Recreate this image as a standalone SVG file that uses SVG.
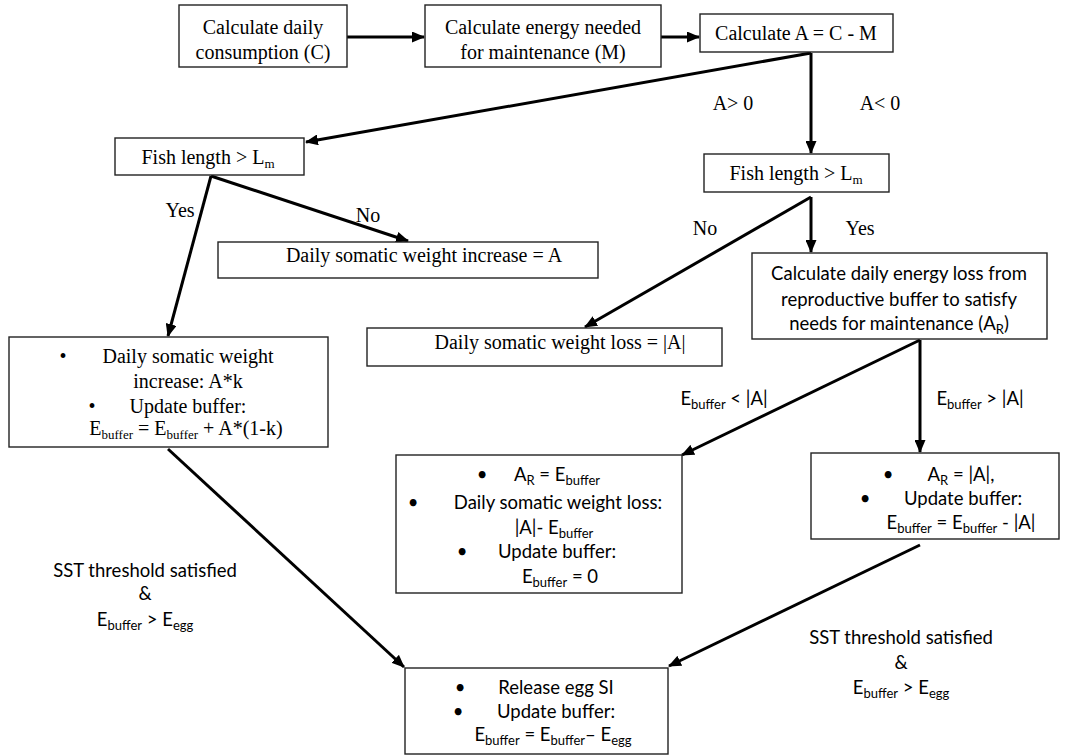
<svg xmlns="http://www.w3.org/2000/svg" width="1065" height="755" viewBox="0 0 1065 755">
<defs>
<marker id="ah" markerUnits="userSpaceOnUse" markerWidth="13" markerHeight="11" refX="12" refY="5.5" orient="auto">
<path d="M0,0 L13,5.5 L0,11 z" fill="#000"/>
</marker>
<style>
.box{fill:#fff;stroke:#222;stroke-width:1.4}
.ser{font-family:"Liberation Serif","Times New Roman",serif;font-size:20px;fill:#000}
.san{font-family:Lato,"Liberation Sans",sans-serif;font-size:18.5px;fill:#000}
.c{text-anchor:middle}
.e{fill:none;stroke:#000;stroke-width:3;marker-end:url(#ah)}
.ln{fill:none;stroke:#000;stroke-width:3}
.sb{font-size:13px}
</style>
</defs>
<rect width="1065" height="755" fill="#fff"/>

<g id="connectors">
<line class="e" x1="347" y1="37" x2="424" y2="37"/>
<line class="e" x1="661" y1="37" x2="699" y2="37"/>
<line class="e" x1="811" y1="53" x2="306" y2="142"/>
<line class="e" x1="811" y1="53" x2="811" y2="153"/>
<line class="e" x1="211" y1="176" x2="168" y2="336"/>
<line class="e" x1="211" y1="176" x2="408" y2="241"/>
<line class="e" x1="811" y1="197" x2="585" y2="327"/>
<line class="e" x1="811" y1="197" x2="811" y2="252"/>
<line class="e" x1="920" y1="340" x2="682" y2="455"/>
<line class="e" x1="920" y1="340" x2="920" y2="452"/>
<line class="e" x1="168" y1="449" x2="404" y2="667"/>
<line class="e" x1="920" y1="545" x2="669" y2="666"/>
</g>

<g id="n-consumption">
<rect class="box" x="179" y="5" width="168" height="62"/>
<text class="ser c" x="263" y="34">Calculate daily</text>
<text class="ser c" x="263" y="59">consumption (C)</text>
</g>
<g id="n-maintenance">
<rect class="box" x="425" y="5" width="236" height="62"/>
<text class="ser c" x="543" y="34">Calculate energy needed</text>
<text class="ser c" x="543" y="59">for maintenance (M)</text>
</g>
<g id="n-calcA">
<rect class="box" x="700" y="14" width="193" height="38"/>
<text class="ser c" x="796" y="40">Calculate A = C - M</text>
</g>
<g id="n-fish-left">
<rect class="box" x="115" y="138" width="189" height="37"/>
<text class="ser c" x="208" y="164">Fish length &gt; L<tspan class="sb" dy="4">m</tspan></text>
</g>
<g id="n-fish-right">
<rect class="box" x="704" y="154" width="185" height="38"/>
<text class="ser c" x="796" y="180">Fish length &gt; L<tspan class="sb" dy="4">m</tspan></text>
</g>
<g id="n-inc">
<rect class="box" x="218" y="242" width="380" height="36"/>
<text class="ser c" x="424" y="262">Daily somatic weight increase = A</text>
</g>
<g id="n-loss">
<rect class="box" x="367" y="328" width="355" height="38"/>
<text class="ser c" x="560" y="349">Daily somatic weight loss = |A|</text>
</g>
<g id="n-grow">
<rect class="box" x="9" y="337" width="319" height="110"/>
<text class="ser c" x="63" y="363">•</text>
<text class="ser c" x="188" y="363">Daily somatic weight</text>
<text class="ser c" x="188" y="388">increase: A*k</text>
<text class="ser c" x="92" y="413">•</text>
<text class="ser c" x="188" y="413">Update buffer:</text>
<text class="ser c" x="186" y="435">E<tspan class="sb" dy="4">buffer</tspan><tspan dy="-4"> = E</tspan><tspan class="sb" dy="4">buffer</tspan><tspan dy="-4"> + A*(1-k)</tspan></text>
</g>
<g id="n-calcloss">
<rect class="box" x="752" y="253" width="295" height="86"/>
<text class="san c" x="899" y="280">Calculate daily energy loss from</text>
<text class="san c" x="899" y="306">reproductive buffer to satisfy</text>
<text class="san c" x="899" y="330">needs for maintenance (A<tspan class="sb" dy="4">R</tspan><tspan dy="-4">)</tspan></text>
</g>
<g id="n-empty">
<rect class="box" x="396" y="455" width="286" height="138"/>
<text class="san c" x="482" y="481">•</text>
<text class="san c" x="557" y="481">A<tspan class="sb" dy="4">R</tspan><tspan dy="-4"> = E</tspan><tspan class="sb" dy="4">buffer</tspan></text>
<text class="san c" x="413" y="509">•</text>
<text class="san c" x="558" y="509">Daily somatic weight loss:</text>
<text class="san c" x="554" y="534">|A|- E<tspan class="sb" dy="4">buffer</tspan></text>
<text class="san c" x="462" y="558">•</text>
<text class="san c" x="557" y="558">Update buffer:</text>
<text class="san c" x="560" y="583">E<tspan class="sb" dy="4">buffer</tspan><tspan dy="-4"> = 0</tspan></text>
</g>
<g id="n-enough">
<rect class="box" x="811" y="453" width="248" height="86"/>
<text class="san c" x="888" y="481">•</text>
<text class="san c" x="961" y="481">A<tspan class="sb" dy="4">R</tspan><tspan dy="-4"> = |A|,</tspan></text>
<text class="san c" x="865" y="505">•</text>
<text class="san c" x="963" y="505">Update buffer:</text>
<text class="san c" x="961" y="529">E<tspan class="sb" dy="4">buffer</tspan><tspan dy="-4"> = E</tspan><tspan class="sb" dy="4">buffer</tspan><tspan dy="-4"> - |A|</tspan></text>
</g>
<g id="n-release">
<rect class="box" x="405" y="668" width="263" height="86"/>
<text class="san c" x="460" y="694">•</text>
<text class="san c" x="556" y="694">Release egg SI</text>
<text class="san c" x="458" y="718">•</text>
<text class="san c" x="556" y="718">Update buffer:</text>
<text class="san c" x="553" y="741">E<tspan class="sb" dy="4">buffer</tspan><tspan dy="-4"> = E</tspan><tspan class="sb" dy="4">buffer</tspan><tspan dy="-4">– E</tspan><tspan class="sb" dy="4">egg</tspan></text>
</g>

<g id="labels">
<text class="ser c" x="733" y="110">A&gt; 0</text>
<text class="ser c" x="880" y="110">A&lt; 0</text>
<text class="ser c" x="180" y="217">Yes</text>
<text class="ser c" x="368" y="222">No</text>
<text class="ser c" x="705" y="235">No</text>
<text class="ser c" x="860" y="235">Yes</text>
<text class="san c" x="724" y="405">E<tspan class="sb" dy="4">buffer</tspan><tspan dy="-4"> &lt; |A|</tspan></text>
<text class="san c" x="980" y="405">E<tspan class="sb" dy="4">buffer</tspan><tspan dy="-4"> &gt; |A|</tspan></text>
<text class="san c" x="145" y="577">SST threshold satisfied</text>
<text class="san c" x="145" y="600">&amp;</text>
<text class="san c" x="145" y="626">E<tspan class="sb" dy="4">buffer</tspan><tspan dy="-4"> &gt; E</tspan><tspan class="sb" dy="4">egg</tspan></text>
<text class="san c" x="901" y="644">SST threshold satisfied</text>
<text class="san c" x="901" y="669">&amp;</text>
<text class="san c" x="901" y="694">E<tspan class="sb" dy="4">buffer</tspan><tspan dy="-4"> &gt; E</tspan><tspan class="sb" dy="4">egg</tspan></text>
</g>
</svg>
